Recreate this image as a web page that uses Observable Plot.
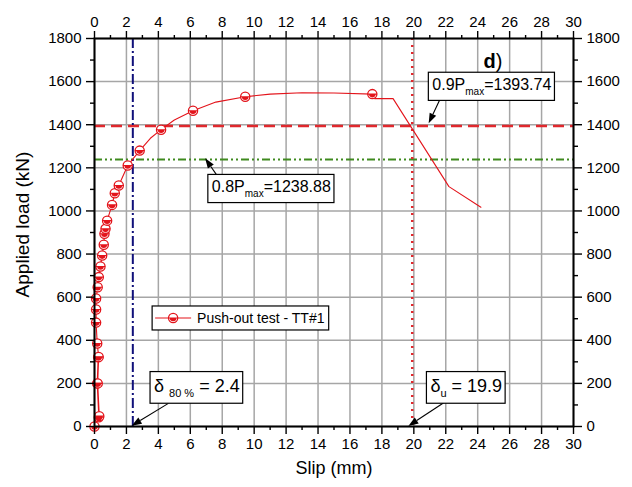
<!DOCTYPE html>
<html><head><meta charset="utf-8">
<script src="https://cdn.jsdelivr.net/npm/d3@7"></script>
<script src="https://cdn.jsdelivr.net/npm/@observablehq/plot@0.6"></script>
<style>
body{margin:0;background:#fff;}
svg{font-family:"Liberation Sans",Arial,sans-serif;}
</style>
</head><body><div id="chart"></div>
<script>
// ---- data ----
const lineSlip = [0, 0.27, 0.17, 0.23, 0.2, 0.3, 0.2, 0.26, 0.17, 0.1, 0.1, 0.1, 0.2, 0.27, 0.375, 0.48, 0.58, 0.625, 0.69, 0.79, 1.1, 1.27, 1.52, 2.08, 2.83, 3.5, 4.17, 5.0, 6.17, 7.6, 9.44, 11.0, 13.0, 15.0, 17.4, 17.55, 18.7, 22.2, 24.2];
const lineLoad = [0, 43, 200, 321, 200, 48, 200, 323, 385, 482, 543, 594, 646, 693, 742, 793, 843, 894, 917, 955, 1028, 1082, 1118, 1211, 1280, 1337, 1377, 1422, 1465, 1505, 1530, 1542, 1548.6, 1547, 1542, 1521, 1521, 1113, 1017];
const markerSlip = [0, 0.27, 0.3, 0.17, 0.2, 0.23, 0.26, 0.17, 0.1, 0.1, 0.1, 0.2, 0.27, 0.375, 0.48, 0.58, 0.625, 0.69, 0.79, 1.1, 1.27, 1.52, 2.08, 2.83, 4.17, 6.17, 9.44, 17.4];
const markerLoad = [0, 43, 48, 200, 200, 321, 323, 385, 482, 543, 594, 646, 693, 742, 793, 843, 894, 917, 955, 1028, 1082, 1118, 1211, 1280, 1377, 1465, 1530, 1542];
const xTickLabels = [0, 2, 4, 6, 8, 10, 12, 14, 16, 18, 20, 22, 24, 26, 28, 30];
const xMinorTicks = [1, 3, 5, 7, 9, 11, 13, 15, 17, 19, 21, 23, 25, 27, 29];
const yTickLabels = [0, 200, 400, 600, 800, 1000, 1200, 1400, 1600, 1800];
const yMinorTicks = [100, 300, 500, 700, 900, 1100, 1300, 1500, 1700];
const P09 = 1393.74;
const P08 = 1238.88;
const delta80 = 2.4;
const deltaU = 19.9;
const seriesName = "Push-out test - TT#1";

const curve = lineSlip.map((s, i) => ({slip: s, load: lineLoad[i]}));
const markers = markerSlip.map((s, i) => ({slip: s, load: markerLoad[i]}));

const RED = "#e3141b";
// half-filled circle glyph: a bar across the diameter plus a smaller lower half disc
function drawHalf(ctx, R) {
  const r = R * 0.72;
  ctx.moveTo(-R, -0.55); ctx.lineTo(R, -0.55); ctx.lineTo(R, 0.55); ctx.lineTo(-R, 0.55); ctx.closePath();
  ctx.moveTo(r, 0);
  ctx.arc(0, 0, r, 0, Math.PI);
  ctx.closePath();
}
const halfDisc = {draw(ctx, size) { drawHalf(ctx, Math.sqrt(size / Math.PI)); }};

const fmt = d => String(d);
const axisCommon = {stroke: "black", strokeWidth: 1.4, fill: "black", label: null, fontSize: 15};

const chart = Plot.plot({
  width: 632, height: 487,
  marginLeft: 94, marginRight: 59, marginTop: 38, marginBottom: 61,
  x: {domain: [0, 30]},
  y: {domain: [0, 1800]},
  style: {fontFamily: '"Liberation Sans", Arial, sans-serif', fontSize: "15px", background: "white", color: "black", overflow: "visible"},
  marks: [
    Plot.gridX(xTickLabels, {stroke: "#a6a6a6", strokeOpacity: 1, strokeWidth: 1.5}),
    Plot.gridY(yTickLabels, {stroke: "#a6a6a6", strokeOpacity: 1, strokeWidth: 1.5}),
    Plot.ruleY([P08], {stroke: "#3f8a1f", strokeWidth: 2, strokeDasharray: "8,3,2,3,2,3"}),
    Plot.ruleY([P09], {stroke: "#e0282d", strokeWidth: 2.5, strokeDasharray: "11,6"}),
    Plot.ruleX([delta80], {stroke: "#10107a", strokeWidth: 2, strokeDasharray: "10,3,2,3"}),
    Plot.ruleX([deltaU], {stroke: "#e0282d", strokeWidth: 2.5, strokeDasharray: "2,5"}),
    Plot.line(curve, {x: "slip", y: "load", stroke: RED, strokeWidth: 1.1}),
    Plot.dot(markers, {x: "slip", y: "load", r: 4.6, stroke: RED, fill: "white", strokeWidth: 1.3}),
    Plot.dot(markers, {x: "slip", y: "load", r: 4.6, symbol: halfDisc, fill: RED, stroke: "none"}),
    Plot.frame({stroke: "black", strokeWidth: 2}),
    Plot.axisX(xTickLabels, {...axisCommon, anchor: "bottom", tickSize: 8, tickPadding: 4, tickFormat: fmt}),
    Plot.axisX(xTickLabels, {...axisCommon, anchor: "top", tickSize: 8, tickPadding: 4, tickFormat: fmt}),
    Plot.axisX(xMinorTicks, {...axisCommon, anchor: "bottom", tickSize: 4, tickFormat: () => ""}),
    Plot.axisX(xMinorTicks, {...axisCommon, anchor: "top", tickSize: 4, tickFormat: () => ""}),
    Plot.axisY(yTickLabels, {...axisCommon, anchor: "left", tickSize: 8, tickPadding: 5, tickFormat: fmt}),
    Plot.axisY(yTickLabels, {...axisCommon, anchor: "right", tickSize: 8, tickPadding: 5, tickFormat: fmt}),
    Plot.axisY(yMinorTicks, {...axisCommon, anchor: "left", tickSize: 4, tickFormat: () => ""}),
    Plot.axisY(yMinorTicks, {...axisCommon, anchor: "right", tickSize: 4, tickFormat: () => ""}),
    Plot.text(["Slip (mm)"], {text: d => d, frameAnchor: "bottom", dy: 47, fontSize: 18, fill: "black"}),
    Plot.text(["Applied load (kN)"], {text: d => d, frameAnchor: "left", textAnchor: "middle", dx: -72, dy: -8, rotate: -90, fontSize: 19, fill: "black"})
  ]
});
document.getElementById("chart").append(chart);

// ---- annotations placed through the chart's own scales ----
const sx = v => chart.scale("x").apply(v);
const sy = v => chart.scale("y").apply(v);
const svg = d3.select(chart);
const g = svg.append("g").attr("text-anchor", "start");

const annotations = [
  {x: 20.94, y: 1558, fs: 16, parts: [["0.9P", 0], ["max", 1], ["=1393.74", 0]], from: [21.7, 1520], to: [20.96, 1404]},
  {x: 7.13, y: 1084, fs: 16, parts: [["0.8P", 0], ["max", 1], ["=1238.88", 0]], from: [7.69, 1164], to: [6.96, 1242]},
  {x: 3.51, y: 159, fs: 18, parts: [["\u03B4 ", 0], ["80 %", 1], [" = 2.4", 0]], from: [4.66, 105], to: [2.36, 1]},
  {x: 20.82, y: 159, fs: 18, parts: [["\u03B4", 0], ["u", 1], [" = 19.9", 0]], from: [21.88, 107], to: [19.69, 0]}
];

function arrow(from, to) {
  const x1 = sx(from[0]), y1 = sy(from[1]), x2 = sx(to[0]), y2 = sy(to[1]);
  const a = Math.atan2(y2 - y1, x2 - x1);
  const L = 10, W = 3.6;
  const bx = x2 - L * Math.cos(a), by = y2 - L * Math.sin(a);
  g.append("line").attr("x1", x1).attr("y1", y1).attr("x2", bx).attr("y2", by)
    .attr("stroke", "black").attr("stroke-width", 1.1);
  g.append("path").attr("d", `M${x2},${y2}L${bx + W * Math.sin(a)},${by - W * Math.cos(a)}L${bx - W * Math.sin(a)},${by + W * Math.cos(a)}Z`)
    .attr("fill", "black");
}

for (const an of annotations) {
  arrow(an.from, an.to);
  const bx = sx(an.x), base = sy(an.y);
  const box = g.append("rect");
  const t = g.append("text").attr("x", bx + 4).attr("y", base).attr("font-size", an.fs).attr("fill", "black")
    .attr("xml:space", "preserve").style("white-space", "pre");
  let prev = 0;
  for (const [s, sub] of an.parts) {
    const off = sub ? Math.round(an.fs * 0.3) : 0;
    t.append("tspan").text(s).attr("dy", off - prev).attr("font-size", sub ? Math.round(an.fs * 0.62) : an.fs);
    prev = off;
  }
  const bb = t.node().getBBox();
  const top = base - an.fs * 1.12, bottom = base + an.fs * 0.64;
  box.attr("x", bx).attr("y", top).attr("width", bb.x + bb.width + 3 - bx).attr("height", bottom - top)
    .attr("fill", "white").attr("stroke", "black").attr("stroke-width", 1.2);
}

// legend
{
  const lx = sx(3.64), ly = sy(556.8);
  const box = g.append("rect");
  const cy = ly + 12;
  g.append("line").attr("x1", lx + 3).attr("x2", lx + 39).attr("y1", cy).attr("y2", cy).attr("stroke", RED).attr("stroke-width", 1.1);
  g.append("circle").attr("cx", lx + 21).attr("cy", cy).attr("r", 4.6).attr("fill", "white").attr("stroke", RED).attr("stroke-width", 1.3);
  const p = d3.path(); drawHalf(p, 4.6);
  g.append("path").attr("d", p.toString()).attr("transform", `translate(${lx + 21},${cy})`).attr("fill", RED);
  const t = g.append("text").attr("x", lx + 45).attr("y", cy + 5).attr("font-size", 14).attr("fill", "black").text(seriesName);
  const bb = t.node().getBBox();
  box.attr("x", lx).attr("y", ly).attr("width", bb.x + bb.width + 4 - lx).attr("height", 24)
    .attr("fill", "white").attr("stroke", "black").attr("stroke-width", 1.2);
}

// panel tag
{
  const t = g.append("text").attr("x", sx(24.4)).attr("y", sy(1661)).attr("font-size", 20).attr("fill", "black");
  t.append("tspan").attr("font-weight", "bold").text("d");
  t.append("tspan").text(")");
}
</script>
</body></html>
